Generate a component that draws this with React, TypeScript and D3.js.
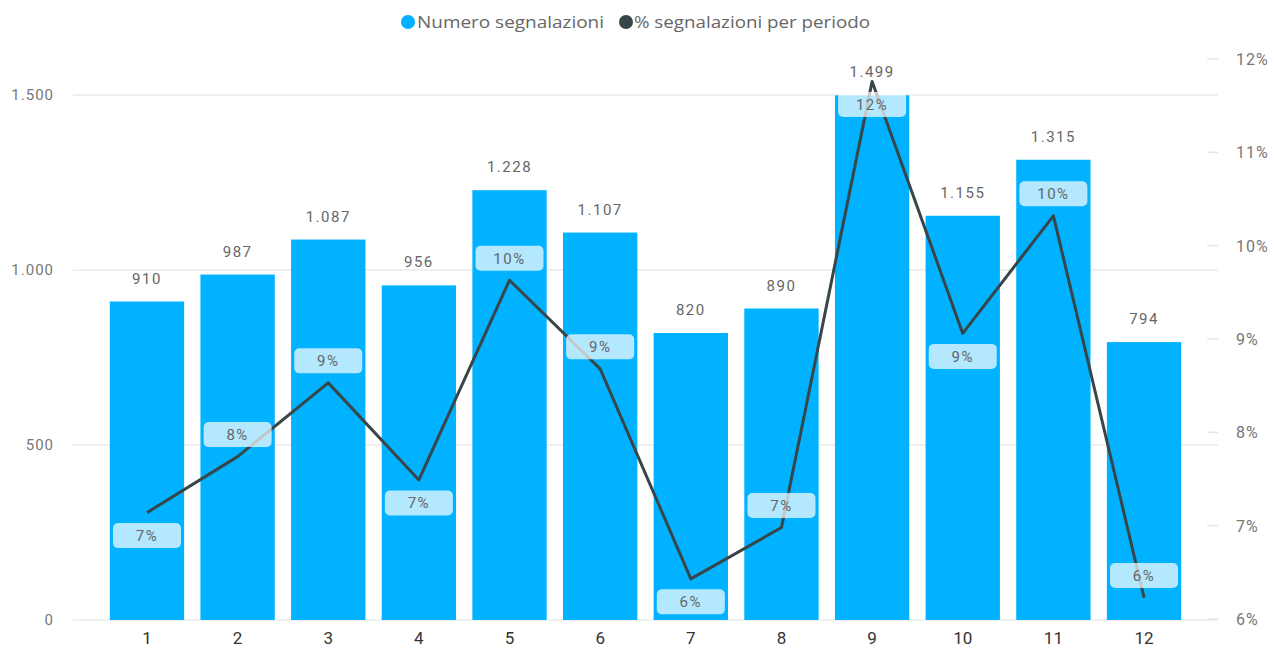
import React from "react";
import * as d3 from "d3";

const categories = ["1", "2", "3", "4", "5", "6", "7", "8", "9", "10", "11", "12"];
const counts = [910, 987, 1087, 956, 1228, 1107, 820, 890, 1499, 1155, 1315, 794];
const percents = [7.14, 7.74, 8.53, 7.49, 9.63, 8.68, 6.43, 6.98, 11.76, 9.06, 10.32, 6.23];
const pctLabelSide = ["below", "above", "above", "below", "above", "above", "below", "above", "below", "below", "above", "above"];
const leftTicks = [0, 500, 1000, 1500];
const rightTicks = [6, 7, 8, 9, 10, 11, 12];

const W = 1274;
const H = 648;
const fmtIt = (v: number) => d3.format(",")(v).replace(/,/g, ".");

export default function App() {
  const x = d3.scaleBand<string>().domain(categories).range([73, 1218]).paddingInner(0.18).paddingOuter(0.406);
  const y = d3.scaleLinear().domain([0, 1500]).range([620, 95]);
  const y2 = d3.scaleLinear().domain([6, 12]).range([619, 59]);
  const line = d3
    .line<number>()
    .x((_, i) => (x(categories[i]) as number) + x.bandwidth() / 2)
    .y((d) => y2(d));
  const font = "'Open Sans', 'Noto Sans', sans-serif";
  const labelFont = "Roboto, 'DejaVu Sans', sans-serif";
  return (
    <svg width={W} height={H} style={{ position: "absolute", left: 0, top: 0, background: "#fff" }}>
      {/* legend */}
      <g fontFamily={font} fontSize={16} fill="#666">
        <circle cx={408} cy={22} r={7} fill="#00b2ff" />
        <text x={417} y={28} textLength={187} lengthAdjust="spacingAndGlyphs">Numero segnalazioni</text>
        <circle cx={626} cy={22} r={7} fill="#374649" />
        <text x={634} y={28} textLength={236} lengthAdjust="spacingAndGlyphs">% segnalazioni per periodo</text>
      </g>
      {/* gridlines */}
      {leftTicks.map((t) => (
        <line key={t} x1={73} x2={1218} y1={y(t)} y2={y(t)} stroke="#ebebeb" strokeWidth={1.5} />
      ))}
      {rightTicks.map((t) => (
        <line key={"r" + t} x1={1207} x2={1218} y1={y2(t)} y2={y2(t)} stroke="#e6e6e6" strokeWidth={1.5} />
      ))}
      {/* left axis labels */}
      <g fontFamily={labelFont} fontSize={15} fill="#777" textAnchor="end">
        {leftTicks.map((t) => (
          <text key={t} x={54} y={y(t) + 5} letterSpacing={1}>
            {fmtIt(t)}
          </text>
        ))}
      </g>
      {/* right axis labels */}
      <g fontFamily={labelFont} fontSize={16} fill="#777">
        {rightTicks.map((t) => (
          <text key={t} x={1236} y={y2(t) + 6} letterSpacing={1}>
            {t}%
          </text>
        ))}
      </g>
      {/* bars */}
      {counts.map((v, i) => (
        <rect
          key={i}
          x={x(categories[i])}
          y={y(v)}
          width={x.bandwidth()}
          height={y(0) - y(v)}
          fill="#00b2ff"
        />
      ))}
      {/* bar value labels */}
      <g fontFamily={labelFont} fontSize={15} fill="#666" textAnchor="middle">
        {counts.map((v, i) => (
          <text key={i} x={(x(categories[i]) as number) + x.bandwidth() / 2} y={y(v) - 18} letterSpacing={1.5}>
            {fmtIt(v)}
          </text>
        ))}
      </g>
      {/* x axis labels */}
      <g fontFamily={labelFont} fontSize={17} fill="#333" textAnchor="middle">
        {categories.map((c) => (
          <text key={c} x={(x(c) as number) + x.bandwidth() / 2} y={644}>
            {c}
          </text>
        ))}
      </g>
      {/* line */}
      <path d={line(percents) || ""} fill="none" stroke="#374649" strokeWidth={3} strokeLinejoin="round" />
      {/* pct labels */}
      <g fontFamily={labelFont} fontSize={15} textAnchor="middle">
        {percents.map((p, i) => {
          const cx = (x(categories[i]) as number) + x.bandwidth() / 2;
          const cy = pctLabelSide[i] === "above" ? y2(p) - 22 : y2(p) + 23;
          return (
            <g key={i}>
              <rect x={cx - 34} y={cy - 12.5} width={68} height={25} rx={5} fill="#ffffff" fillOpacity={0.7} />
              <text x={cx} y={cy + 5.5} fill="#666" letterSpacing={1.5}>
                {Math.round(p)}%
              </text>
            </g>
          );
        })}
      </g>
    </svg>
  );
}
